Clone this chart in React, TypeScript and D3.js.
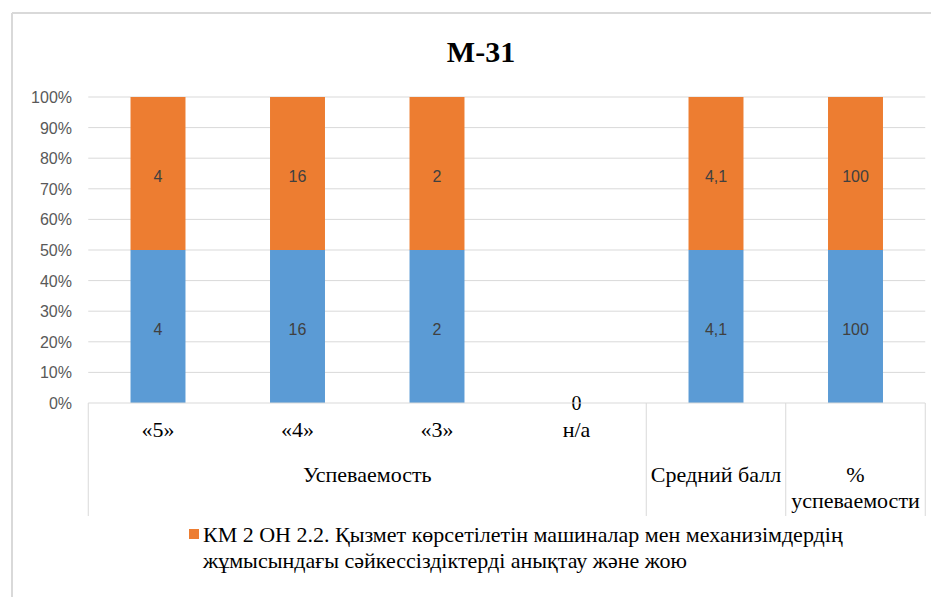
import React from "react";
import * as d3 from "d3";

const categories = ["«5»", "«4»", "«3»", "н/а", "Средний балл", "% успеваемости"];
const labelStrings = ["4", "16", "2", "0", "4,1", "100"];
const seriesBlue = [4, 16, 2, 0, 4.1, 100];
const seriesOrange = [4, 16, 2, 0, 4.1, 100];
const yTicks = [0, 0.1, 0.2, 0.3, 0.4, 0.5, 0.6, 0.7, 0.8, 0.9, 1.0];
const groupLabels = [
  { text: ["Успеваемость"], from: 0, to: 3 },
  { text: ["Средний балл"], from: 4, to: 4 },
  { text: ["%", "успеваемости"], from: 5, to: 5 },
];
const title = "M-31";
const legendLines = [
  "КМ 2 ОН 2.2. Қызмет көрсетілетін машиналар мен механизімдердің",
  "жұмысындағы сәйкессіздіктерді анықтау және жою",
];

const W = 931;
const H = 597;
const SANS = "'Liberation Sans', Arial, sans-serif";
const SERIF = "'Liberation Serif', 'Times New Roman', serif";
const BLUE = "#5B9BD5";
const ORANGE = "#ED7D31";
const GRID = "#d9d9d9";

export default function App() {
  const left = 88.25;
  const right = 925.25;
  const top = 97;
  const bottom = 403;

  const x = d3
    .scaleBand<string>()
    .domain(categories)
    .range([left, right])
    .paddingInner(0.606)
    .paddingOuter(0.303);
  const step = x.step();
  const y = d3.scaleLinear().domain([0, 1]).range([bottom, top]);

  const rows = categories.map((c, i) => ({ cat: c, blue: seriesBlue[i], orange: seriesOrange[i] }));
  const stack = d3.stack<any>().keys(["blue", "orange"]).offset(d3.stackOffsetExpand);
  const stacked = stack(rows);
  const colors: Record<string, string> = { blue: BLUE, orange: ORANGE };

  const catCenter = (i: number) => left + step * (i + 0.5);
  const boundary = (i: number) => left + step * i;

  const dividers = [0, 4, 5, 6];

  return (
    <svg width={W} height={H} style={{ position: "absolute", left: 0, top: 0, background: "#fff" }}>
      <rect x={0} y={0} width={W} height={H} fill="#fff" />
      {/* outer chart border */}
      <line x1={12} y1={13} x2={W} y2={13} stroke={GRID} strokeWidth={2} />
      <line x1={12} y1={13} x2={12} y2={H} stroke={GRID} strokeWidth={2} />

      <text x={481} y={62} textAnchor="middle" fontFamily={SERIF} fontWeight="bold" fontSize={30} fill="#000">
        {title}
      </text>

      {/* gridlines */}
      {yTicks.map((t) => (
        <g key={t}>
          {t > 0 && <line x1={left} x2={right} y1={y(t)} y2={y(t)} stroke={GRID} strokeWidth={1} />}
          <text x={72} y={y(t) + 6} textAnchor="end" fontFamily={SANS} fontSize={16} fill="#595959">
            {Math.round(t * 100) + "%"}
          </text>
        </g>
      ))}

      {/* bars */}
      {stacked.map((s) =>
        s.map((d, i) => {
          const v = (rows[i] as any)[s.key];
          if (!v) return null;
          const x0 = x(categories[i])!;
          const y0 = y(d[1]);
          const y1 = y(d[0]);
          return (
            <g key={s.key + i}>
              <rect x={x0} y={y0} width={x.bandwidth()} height={y1 - y0} fill={colors[s.key]} />
              <text
                x={x0 + x.bandwidth() / 2}
                y={(y0 + y1) / 2 + 8}
                textAnchor="middle"
                fontFamily={SANS}
                fontSize={16}
                fill="#404040"
              >
                {labelStrings[i]}
              </text>
            </g>
          );
        })
      )}

      {/* zero label */}
      {rows.map((r, i) =>
        r.blue === 0 && r.orange === 0 ? (
          <text key={"z" + i} x={catCenter(i)} y={410} textAnchor="middle" fontFamily={SERIF} fontSize={20} fill="#000">
            {labelStrings[i]}
          </text>
        ) : null
      )}

      {/* axis line */}
      <line x1={left} x2={right} y1={bottom} y2={bottom} stroke={GRID} strokeWidth={1} />
      {dividers.map((b) => (
        <line key={b} x1={boundary(b)} x2={boundary(b)} y1={bottom} y2={516} stroke={GRID} strokeWidth={1} />
      ))}

      {/* category labels */}
      {categories.slice(0, 4).map((c, i) => (
        <text key={c} x={catCenter(i)} y={437} textAnchor="middle" fontFamily={SERIF} fontSize={22} fill="#000">
          {c}
        </text>
      ))}
      {groupLabels.map((g) => {
        const cx = (catCenter(g.from) + catCenter(g.to)) / 2;
        return (
          <text key={g.text.join()} x={cx} y={482} textAnchor="middle" fontFamily={SERIF} fontSize={22} fill="#000">
            {g.text.map((t, k) => (
              <tspan key={k} x={cx} dy={k === 0 ? 0 : 26}>
                {t}
              </tspan>
            ))}
          </text>
        );
      })}

      {/* legend */}
      <rect x={189} y={529} width={10} height={10} fill={ORANGE} />
      <text fontFamily={SERIF} fontSize={22} fill="#000">
        {legendLines.map((l, k) => (
          <tspan key={k} x={203} y={542 + k * 26}>
            {l}
          </tspan>
        ))}
      </text>
    </svg>
  );
}
